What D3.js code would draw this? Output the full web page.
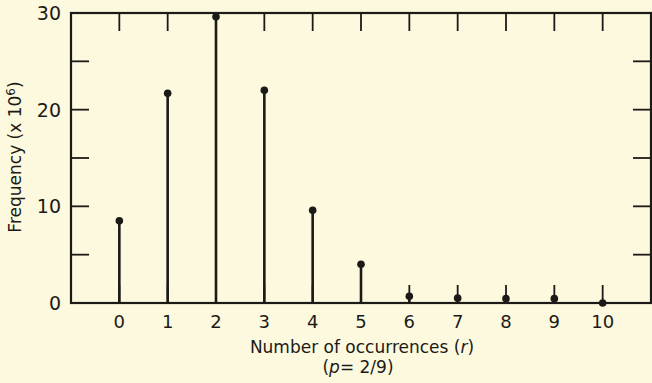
<!DOCTYPE html>
<html><head><meta charset="utf-8">
<script src="https://cdn.jsdelivr.net/npm/d3@7"></script>
<style>
html,body{margin:0;padding:0;background:#fcf9de;}
svg{display:block;}
text{font-family:"DejaVu Sans","Open Sans",sans-serif;fill:#1c1a17;}
</style></head>
<body>
<script>
// Data
const occurrences = [0,1,2,3,4,5,6,7,8,9,10];
const frequency = [8.5,21.7,29.6,22.0,9.6,4.0,0.7,0.5,0.45,0.45,0.0];
const yTickValues = [0,10,20,30];
const yMinorTicks = [5,10,15,20,25];

const W=652,H=383;
const svg=d3.select("body").append("svg").attr("width",W).attr("height",H);
svg.append("rect").attr("width",W).attr("height",H).attr("fill","#fcf9de");

const x=d3.scaleLinear().domain([-1,11]).range([71,651]);
const y=d3.scaleLinear().domain([0,30]).range([303,13]);
const ink="#1c1a17";
const tl=18;

// frame
svg.append("rect").attr("x",x(-1)).attr("y",y(30)).attr("width",x(11)-x(-1)).attr("height",y(0)-y(30))
  .attr("fill","none").attr("stroke",ink).attr("stroke-width",2.2);

// left/right inside ticks
const g=svg.append("g").attr("stroke",ink).attr("stroke-width",1.8);
yMinorTicks.forEach(v=>{
  g.append("line").attr("x1",x(-1)).attr("x2",x(-1)+tl).attr("y1",y(v)).attr("y2",y(v));
  g.append("line").attr("x1",x(11)).attr("x2",x(11)-tl).attr("y1",y(v)).attr("y2",y(v));
});
// top and bottom inside ticks
occurrences.forEach(r=>{
  g.append("line").attr("x1",x(r)).attr("x2",x(r)).attr("y1",y(30)).attr("y2",y(30)+tl);
  g.append("line").attr("x1",x(r)).attr("x2",x(r)).attr("y1",y(0)).attr("y2",y(0)-tl);
});

// stems
svg.append("g").selectAll("line").data(occurrences).join("line")
  .attr("x1",d=>x(d)).attr("x2",d=>x(d))
  .attr("y1",y(0)).attr("y2",(d,i)=>y(frequency[i]))
  .attr("stroke",ink).attr("stroke-width",2.6);
svg.append("g").selectAll("circle").data(occurrences).join("circle")
  .attr("cx",d=>x(d)).attr("cy",(d,i)=>y(frequency[i])).attr("r",3.8).attr("fill",ink);

// y tick labels
svg.append("g").selectAll("text").data(yTickValues).join("text")
  .attr("x",61).attr("y",d=>y(d)+7).attr("text-anchor","end")
  .attr("font-size",19).text(d=>d);
// x tick labels
svg.append("g").selectAll("text").data(occurrences).join("text")
  .attr("x",d=>x(d)).attr("y",328).attr("text-anchor","middle")
  .attr("font-size",18).text(d=>d);

// axis titles
const xt=svg.append("text").attr("x",362).attr("y",353).attr("text-anchor","middle").attr("font-size",17);
xt.append("tspan").text("Number of occurrences (");
xt.append("tspan").attr("font-style","italic").text("r");
xt.append("tspan").text(")");
const pt=svg.append("text").attr("x",358).attr("y",373).attr("text-anchor","middle").attr("font-size",17);
pt.append("tspan").text("(");
pt.append("tspan").attr("font-style","italic").text("p");
pt.append("tspan").text("= 2/9)");

const yt=svg.append("text").attr("transform","translate(21,157) rotate(-90)").attr("text-anchor","middle").attr("font-size",17);
yt.append("tspan").text("Frequency (x 10");
yt.append("tspan").attr("font-size",12).attr("dy",-6).text("6");
yt.append("tspan").attr("dy",6).text(")");
</script>
</body></html>
